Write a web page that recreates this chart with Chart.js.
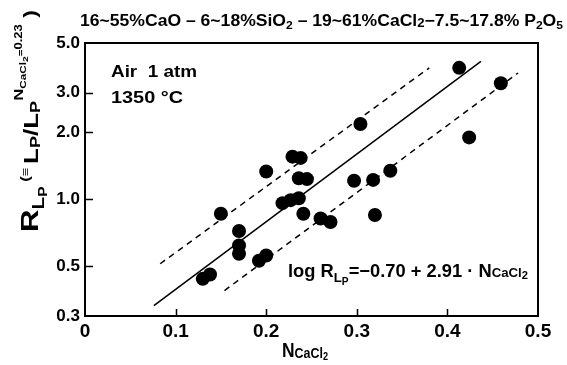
<!DOCTYPE html>
<html>
<head>
<meta charset="utf-8">
<script src="https://cdn.jsdelivr.net/npm/chart.js@4.4.1/dist/chart.umd.min.js"></script>
<style>
  body { margin: 0; background: #fff; }
  canvas { display: block; }
</style>
</head>
<body>
<canvas id="grafico" width="567" height="365"></canvas>
<script>
// valores
const nCaCl2 = [0.130, 0.138, 0.150, 0.170, 0.170, 0.170, 0.192, 0.200, 0.200, 0.218,
  0.227, 0.236, 0.229, 0.238, 0.236, 0.245, 0.241, 0.260, 0.271, 0.297,
  0.304, 0.318, 0.320, 0.337, 0.413, 0.424, 0.459];
const rLp = [0.44, 0.46, 0.86, 0.72, 0.62, 0.57, 0.53, 0.56, 1.33, 0.96,
  0.99, 1.01, 1.55, 1.53, 1.24, 1.23, 0.86, 0.82, 0.79, 1.21,
  2.17, 1.22, 0.85, 1.34, 3.87, 1.89, 3.30];

// recta de regresion y bandas punteadas (extremos)
const fitX = [0.076, 0.437];
const fitY = [0.334, 4.14];
const upperX = [0.083, 0.380];
const upperY = [0.514, 3.87];
const lowerX = [0.154, 0.478];
const lowerY = [0.39, 3.67];

const xTicks = [0, 0.1, 0.2, 0.3, 0.4, 0.5];
const yTicks = [0.3, 0.5, 1.0, 2.0, 3.0, 5.0];

const FONT = '"Liberation Sans", Arial, sans-serif';

const toPoints = (xs, ys) => xs.map((x, i) => ({ x: x, y: ys[i] }));

// texto con subindices, escalado al ancho pedido
const drawRich = (ctx, parts, x, y, fitWidth) => {
  let total = 0;
  const widths = parts.map((p) => {
    ctx.font = `bold ${p.s}px ${FONT}`;
    const w = ctx.measureText(p.t).width;
    total += w;
    return w;
  });
  const k = fitWidth ? fitWidth / total : 1;
  ctx.save();
  ctx.translate(x, y);
  ctx.scale(k, 1);
  let cx = 0;
  parts.forEach((p, i) => {
    ctx.font = `bold ${p.s}px ${FONT}`;
    ctx.fillText(p.t, cx, p.dy || 0);
    cx += widths[i];
  });
  ctx.restore();
};

const marco = {
  id: 'marco',
  afterDraw(chart) {
    const ctx = chart.ctx;
    const a = chart.chartArea;
    const xs = chart.scales.x;
    const ys = chart.scales.y;
    ctx.save();
    ctx.strokeStyle = '#000';
    ctx.fillStyle = '#000';
    ctx.lineWidth = 2;
    ctx.strokeRect(a.left, a.top, a.right - a.left, a.bottom - a.top);

    // marcas hacia dentro
    ctx.lineWidth = 1.5;
    ctx.beginPath();
    xTicks.slice(1, -1).forEach((v) => {
      const px = Math.round(xs.getPixelForValue(v)) + 0.5;
      ctx.moveTo(px, a.bottom);
      ctx.lineTo(px, a.bottom - 7);
    });
    yTicks.slice(1, -1).forEach((v) => {
      const py = Math.round(ys.getPixelForValue(v)) + 0.5;
      ctx.moveTo(a.left, py);
      ctx.lineTo(a.left + 8, py);
    });
    ctx.stroke();

    ctx.textBaseline = 'alphabetic';
    ctx.textAlign = 'left';

    // titulo superior
    drawRich(ctx, [
      { t: '16~55%CaO \u2013 6~18%SiO', s: 16 },
      { t: '2', s: 11, dy: 3 },
      { t: ' \u2013 19~61%CaCl', s: 16 },
      { t: '2', s: 12, dy: 1 },
      { t: '\u22127.5~17.8% P', s: 16 },
      { t: '2', s: 11, dy: 3 },
      { t: 'O', s: 16 },
      { t: '5', s: 11, dy: 3 }
    ], 80, 26, 483);

    drawRich(ctx, [{ t: 'Air  1 atm', s: 16 }], 111, 77, 86);
    drawRich(ctx, [{ t: '1350 \u00b0C', s: 16 }], 111, 103, 72);

    // ecuacion
    drawRich(ctx, [
      { t: 'log R', s: 18 },
      { t: 'L', s: 13, dy: 5 },
      { t: 'P', s: 10, dy: 8 },
      { t: '=\u22120.70 + 2.91 \u00b7 N', s: 18 },
      { t: 'CaCl', s: 13 },
      { t: '2', s: 11, dy: 2 }
    ], 288, 277, 240);

    // titulo eje x
    drawRich(ctx, [
      { t: 'N', s: 21 },
      { t: 'CaCl', s: 15, dy: 1 },
      { t: '2', s: 11, dy: 3 }
    ], 282, 357, 46);

    // titulo eje y
    ctx.save();
    ctx.translate(38, 232);
    ctx.rotate(-Math.PI / 2);
    drawRich(ctx, [
      { t: 'R', s: 24 },
      { t: 'L', s: 16, dy: 6 },
      { t: 'P', s: 12, dy: 9 },
      { t: ' (', s: 13, dy: -9 },
      { t: '\u2261 ', s: 11, dy: -9 },
      { t: 'L', s: 20 },
      { t: 'P', s: 14, dy: 2 },
      { t: '/', s: 20 },
      { t: 'L', s: 20 },
      { t: 'P', s: 14, dy: 2 },
      { t: 'N', s: 13, dy: -15 },
      { t: 'CaCl', s: 9, dy: -12 },
      { t: '2', s: 8, dy: -10 },
      { t: '=', s: 9, dy: -14 },
      { t: '0.23', s: 10, dy: -16 },
      { t: ' )', s: 18, dy: -2 }
    ], 0, 0, 222);
    ctx.restore();
    ctx.restore();
  }
};

const lineaBase = { showLine: true, pointRadius: 0, borderColor: '#000', borderWidth: 1.5, fill: false };

const config = {
  type: 'scatter',
  data: {
    datasets: [
      {
        label: 'datos',
        data: toPoints(nCaCl2, rLp),
        pointRadius: 7,
        pointBackgroundColor: '#000',
        pointBorderWidth: 0,
        showLine: false
      },
      Object.assign({ label: 'ajuste', data: toPoints(fitX, fitY) }, lineaBase),
      Object.assign({ label: 'superior', data: toPoints(upperX, upperY), borderDash: [6, 5] }, lineaBase),
      Object.assign({ label: 'inferior', data: toPoints(lowerX, lowerY), borderDash: [6, 5] }, lineaBase)
    ]
  },
  options: {
    responsive: false,
    animation: false,
    devicePixelRatio: 1,
    layout: { padding: { top: 43, right: 29, bottom: 0, left: 0 } },
    plugins: { legend: { display: false }, tooltip: { enabled: false } },
    scales: {
      x: {
        type: 'linear',
        min: 0,
        max: 0.5,
        grid: { display: false, drawTicks: false },
        border: { display: false },
        afterBuildTicks: (s) => { s.ticks = xTicks.map((v) => ({ value: v })); },
        afterFit: (s) => { s.height = 49; },
        ticks: {
          padding: 4,
          color: '#000',
          maxRotation: 0,
          font: { family: FONT, weight: 'bold', size: 19 },
          callback: (v) => (v === 0 ? '0' : Number(v).toFixed(1))
        }
      },
      y: {
        type: 'logarithmic',
        min: 0.3,
        max: 5.0,
        grid: { display: false, drawTicks: false },
        border: { display: false },
        afterBuildTicks: (s) => { s.ticks = yTicks.map((v) => ({ value: v })); },
        afterFit: (s) => { s.width = 85; },
        ticks: {
          padding: 5,
          color: '#000',
          font: { family: FONT, weight: 'bold', size: 17 },
          callback: (v) => Number(v).toFixed(1)
        }
      }
    }
  },
  plugins: [marco]
};

const canvas = document.getElementById('grafico');
const ctx = canvas.getContext('2d');
const miGrafico = new Chart(ctx, config);
</script>
</body>
</html>
